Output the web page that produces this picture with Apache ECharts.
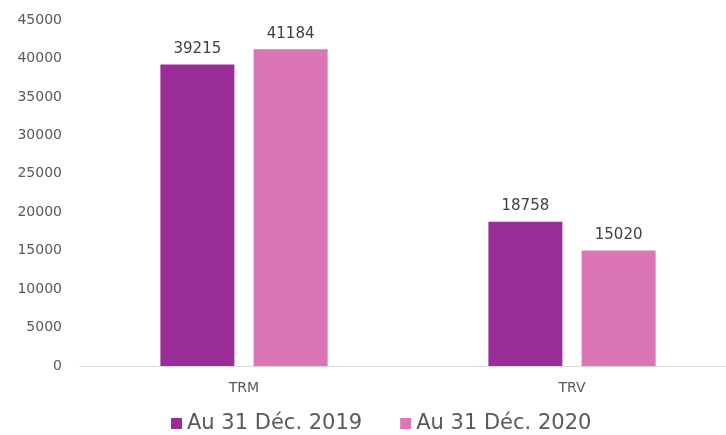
<!DOCTYPE html>
<html>
<head>
<meta charset="utf-8">
<script src="https://cdn.jsdelivr.net/npm/echarts@6/dist/echarts.min.js"></script>
<style>
  html, body { margin: 0; padding: 0; background: #fff; }
  #chart { width: 726px; height: 435px; }
</style>
</head>
<body>
<div id="chart"></div>
<script>
// categories and values
var categories = ['TRM', 'TRV'];
var seriesNames = ['Au 31 Déc. 2019', 'Au 31 Déc. 2020'];
var values2019 = [39215, 18758];
var values2020 = [41184, 15020];

var chart = echarts.init(document.getElementById('chart'));

var labelStyle = {
    show: true,
    position: 'top',
    distance: 8,
    color: '#404040',
    fontSize: 15,
    fontFamily: 'DejaVu Sans'
};

var option = {
    animation: false,
    textStyle: { fontFamily: 'DejaVu Sans' },
    grid: {
        left: 80,
        top: 20,
        width: 656,
        bottom: 69,
        outerBoundsMode: 'none'
    },
    legend: {
        bottom: -4,
        left: 166,
        itemWidth: 11,
        itemHeight: 11,
        itemGap: 38,
        icon: 'rect',
        textStyle: {
            color: '#595959',
            fontSize: 21,
            fontFamily: 'DejaVu Sans'
        },
        data: seriesNames
    },
    xAxis: {
        type: 'category',
        data: categories,
        axisLine: { lineStyle: { color: '#d9d9d9', width: 1 } },
        axisTick: { show: false },
        axisLabel: { color: '#595959', fontSize: 14, margin: 15 }
    },
    yAxis: {
        type: 'value',
        min: 0,
        max: 45000,
        interval: 5000,
        splitLine: { show: false },
        axisLine: { show: false },
        axisTick: { show: false },
        axisLabel: {
            color: '#595959',
            fontSize: 14,
            margin: 18,
            formatter: function (v) { return String(v); }
        }
    },
    series: [
        {
            name: seriesNames[0],
            type: 'bar',
            data: values2019,
            barWidth: 74,
            barGap: '26%',
            itemStyle: { color: '#9b2d98' },
            label: labelStyle
        },
        {
            name: seriesNames[1],
            type: 'bar',
            data: values2020,
            barWidth: 74,
            itemStyle: { color: '#dc75b6' },
            label: labelStyle
        }
    ]
};

chart.setOption(option);
</script>
</body>
</html>
